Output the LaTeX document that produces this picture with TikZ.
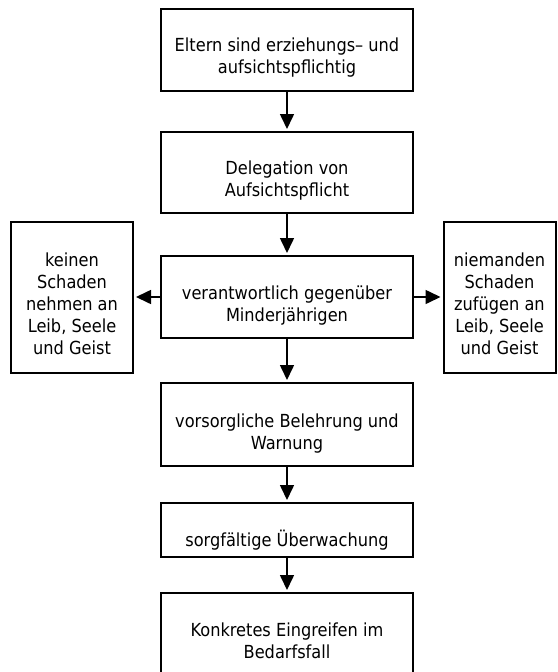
\documentclass[tikz,border=0pt]{standalone}
\usepackage{fontspec}
\setmainfont{DejaVu Sans Condensed}
\usetikzlibrary{arrows.meta}
\begin{document}
\begin{tikzpicture}[x=1pt,y=-1pt,
  box/.style={draw=black,line width=2pt,minimum width=252pt,inner sep=0pt},
  sidebox/.style={draw=black,line width=2pt,inner sep=0pt},
  txt/.style={inner sep=0pt,align=center,font=\fontsize{18}{22}\selectfont},
  arr/.style={line width=1.6pt,-{Triangle[length=15pt,width=14pt]},shorten >=2pt}]
\useasboundingbox (0,0) rectangle (557,672);
\node[box,minimum height=82pt] (b1) at (287,50) {};
\node[box,minimum height=81pt] (b2) at (287,172.5) {};
\node[box,minimum height=82pt] (b3) at (287,297) {};
\node[sidebox,minimum width=122pt,minimum height=151pt] (bl) at (72,297.5) {};
\node[sidebox,minimum width=112pt,minimum height=151pt] (br) at (499.5,297.5) {};
\node[box,minimum height=83pt] (b4) at (287,424.5) {};
\node[box,minimum height=54pt] (b5) at (287,530) {};
\node[box,minimum height=80pt] (b6) at (287,633) {};
\node[txt] (t1) at ([yshift=-8pt]b1.center) {Eltern sind erziehungs– und\\aufsichtspflichtig};
\node[txt] (t2) at ([yshift=-8pt]b2.center) {Delegation von\\Aufsichtspflicht};
\node[txt] (t3) at ([yshift=-9pt]b3.center) {verantwortlich gegenüber\\Minderjährigen};
\node[txt] (tl) at ([yshift=-6pt]bl.center) {keinen\\Schaden\\nehmen an\\Leib, Seele\\und Geist};
\node[txt] (tr) at ([yshift=-6pt]br.center) {niemanden\\Schaden\\zufügen an\\Leib, Seele\\und Geist};
\node[txt] (t4) at ([yshift=-9pt]b4.center) {vorsorgliche Belehrung und\\Warnung};
\node[txt] (t5) at ([yshift=-10pt]b5.center) {sorgfältige Überwachung};
\node[txt] (t6) at ([yshift=-8pt]b6.center) {Konkretes Eingreifen im\\Bedarfsfall};
\draw[arr] (b1.south) -- (b2.north);
\draw[arr] (b2.south) -- (b3.north);
\draw[arr] (b3.south) -- (b4.north);
\draw[arr] (b4.south) -- (b5.north);
\draw[arr] (b5.south) -- (b6.north);
\draw[arr] (b3.west) -- (b3.west -| bl.east);
\draw[arr] (b3.east) -- (b3.east -| br.west);
\end{tikzpicture}
\end{document}
